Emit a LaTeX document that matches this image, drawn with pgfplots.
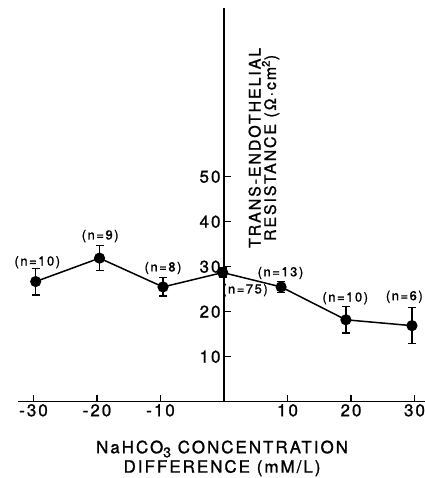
\documentclass[border=0pt]{standalone}
\usepackage{pgfplots}
\pgfplotsset{compat=1.18}
\usepackage{fontspec}
\setmainfont{TeX Gyre Heros}
\newfontfamily\lett[LetterSpace=12,FakeBold=1.2]{TeX Gyre Heros}
\begin{document}
\begin{tikzpicture}
\useasboundingbox (-17.6bp,-76.3bp) rectangle (407.4bp,401.7bp);
\clip (-17.6bp,-76.3bp) rectangle (407.4bp,401.7bp);
\begin{axis}[
  at={(0,0)}, anchor=south west,
  scale only axis,
  width=412.75bp, height=393.75bp,
  xmin=-32.5, xmax=32.5, ymin=0, ymax=87.5,
  axis lines=middle,
  axis line style={-, line width=1.4bp},
  tick align=inside,
  major tick length=7bp,
  tick style={line width=1.3bp, black},
  xtick={-30,-20,-10,10,20,30},
  xticklabels={-30,-20,-10,10,20,30},
  ytick={10,20,30,40,50},
  yticklabels={10,20,30,40,50},
  tick label style={font=\lett\fontsize{17}{17}\selectfont},
  xticklabel style={yshift=1bp},
  clip=false,
]
\addplot[black, line width=1.5bp, mark=*, mark size=4.8bp,
  error bars/.cd, y dir=both, y explicit,
  error bar style={line width=1.4bp},
  error mark options={rotate=90, mark size=4bp, line width=1.4bp}]
  coordinates {
  (-29.65,26.7) +- (0,2.95)
  (-19.6,31.9) +- (0,2.8)
  (-9.6,25.5) +- (0,2.05)
  (-0.2,28.7) +- (0,1.0)
  (9.0,25.5) +- (0,1.25)
  (19.2,18.2) +- (0,2.9)
  (29.6,16.9) +- (0,4.0)
  };
\begin{scope}[every node/.style={font=\lett\fontsize{13}{13}\selectfont}]
\node at (axis cs:-29.4,31.0) {(n=10)};
\node at (axis cs:-19.5,36.8) {(n=9)};
\node at (axis cs:-9.6,29.7) {(n=8)};
\node at (axis cs:3.3,24.8) {(n=75)};
\node at (axis cs:8.9,28.6) {(n=13)};
\node at (axis cs:19.1,23.0) {(n=10)};
\node at (axis cs:28.4,23.3) {(n=6)};
\end{scope}
\node[rotate=90, align=center, font=\lett\fontsize{16}{14}\selectfont]
  at (axis cs:6.3,56.4) {TRANS-ENDOTHELIAL\\RESISTANCE (Ω·cm\textsuperscript{2})};
\node[align=center, font=\lett\fontsize{17}{19.5}\selectfont]
  at (axis cs:-0.3,-12.6) {NaHCO\raisebox{-4bp}{\fontsize{14}{14}\selectfont 3} CONCENTRATION\\DIFFERENCE (mM/L)};
\end{axis}
\end{tikzpicture}
\end{document}
